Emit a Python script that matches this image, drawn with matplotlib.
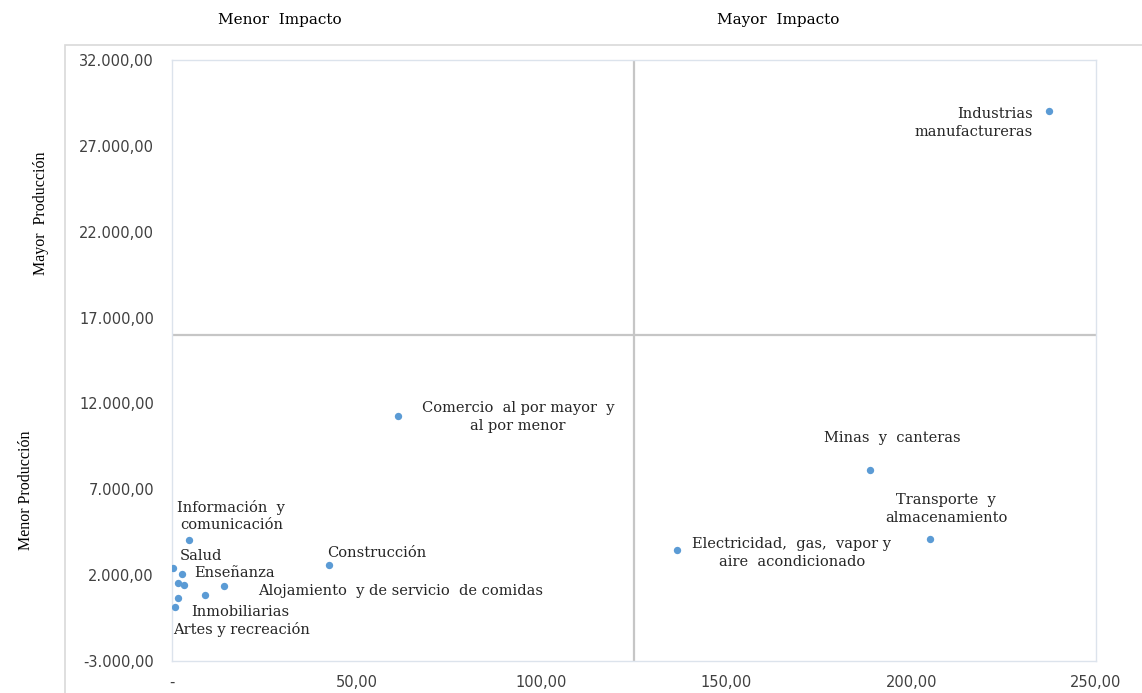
import matplotlib
matplotlib.use("Agg")
import matplotlib.pyplot as plt
from matplotlib.patches import Rectangle
from matplotlib.ticker import FuncFormatter

# ---- data ----
sectors = [
    "Industrias\nmanufactureras",
    "Minas  y  canteras",
    "Transporte  y\nalmacenamiento",
    "Electricidad,  gas,  vapor y\naire  acondicionado",
    "Comercio  al por mayor  y\nal por menor",
    "Construcción",
    "Información  y\ncomunicación",
    "Salud",
    "Enseñanza",
    "Otros servicios",
    "Actividades financieras",
    "Alojamiento  y de servicio  de comidas",
    "Actividades profesionales",
    "Inmobiliarias",
    "Artes y recreación",
]
impacto = [237.3, 188.9, 205.1, 136.6, 61.1, 42.5, 4.7, 0.35, 2.6, 1.7, 3.3, 14.1, 9.0, 1.7, 0.8]
produccion = [29030, 8120, 4100, 3460, 11270, 2590, 4045, 2400, 2065, 1525, 1440, 1385, 860, 685, 160]
show_label = [True, True, True, True, True, True, True, True, True, False, False, True, False, True, True]

x_threshold = 125
y_threshold = 16000
x_ticks = [0, 50, 100, 150, 200, 250]
y_ticks = [-3000, 2000, 7000, 12000, 17000, 22000, 27000, 32000]

# label placement (offset in pixels, alignment)
label_layout = {
    0: (-16, -12, "right", "right"),
    1: (22, 32, "center", "center"),
    2: (16, 30, "center", "center"),
    3: (115, -3, "center", "center"),
    4: (120, -1, "center", "center"),
    5: (48, 12, "center", "center"),
    6: (42, 24, "center", "center"),
    7: (6, 12, "left", "left"),
    8: (13, 1, "left", "left"),
    11: (34, -5, "left", "left"),
    13: (13, -14, "left", "left"),
    14: (-2, -23, "left", "left"),
}

W, H = 1142, 693
fig = plt.figure(figsize=(W / 100, H / 100), dpi=100)
ax = fig.add_axes([172 / W, 1 - 661 / H, (1096 - 172) / W, (661 - 60) / H])

# outer chart border
fig.patches.append(Rectangle((65 / W, -0.05), 1.0, 1 - 45 / H + 0.05,
                             transform=fig.transFigure, fill=False,
                             edgecolor="#D9D9D9", lw=1.2))

ax.set_xlim(0, 250)
ax.set_ylim(-3000, 32000)
ax.axvline(x_threshold, color="#C6C6C6", lw=1.6, zorder=1)
ax.axhline(y_threshold, color="#C6C6C6", lw=1.6, zorder=1)

ax.scatter(impacto, produccion, s=28, color="#5B9BD5", zorder=3, linewidths=0)

serif = "DejaVu Serif"
for i, (x, y, name) in enumerate(zip(impacto, produccion, sectors)):
    if not show_label[i]:
        continue
    dx, dy, ha, ma = label_layout[i]
    ax.annotate(name, xy=(x, y), xytext=(dx, dy), textcoords="offset pixels",
                ha=ha, va="center", multialignment=ma, fontsize=10.5,
                family=serif, color="#262626", linespacing=1.35)


def es_fmt(v, decimals=2):
    s = f"{v:,.{decimals}f}"
    return s.replace(",", "X").replace(".", ",").replace("X", ".")


ax.xaxis.set_major_formatter(FuncFormatter(lambda v, p: "-" if abs(v) < 1e-9 else es_fmt(v)))
ax.yaxis.set_major_formatter(FuncFormatter(lambda v, p: es_fmt(v)))
ax.set_xticks(x_ticks)
ax.set_yticks(y_ticks)
ax.tick_params(length=0, labelsize=10.5, labelcolor="#404040")
ax.tick_params(axis="x", pad=10)
ax.tick_params(axis="y", pad=13)
for lab in ax.get_xticklabels() + ax.get_yticklabels():
    lab.set_family("DejaVu Sans")

for sp in ax.spines.values():
    sp.set_color("#DCE3EC")
    sp.set_linewidth(1.0)

# quadrant captions
fig.text(280 / W, 1 - 20 / H, "Menor  Impacto", ha="center", va="center",
         fontsize=11, family=serif, color="#000000")
fig.text(778 / W, 1 - 20 / H, "Mayor  Impacto", ha="center", va="center",
         fontsize=11, family=serif, color="#000000")
fig.text(41 / W, 1 - 213 / H, "Mayor  Producción", ha="center", va="center",
         rotation=90, fontsize=11.5, family="Liberation Serif", color="#000000")
fig.text(26 / W, 1 - 490 / H, "Menor Producción", ha="center", va="center",
         rotation=90, fontsize=11.5, family="Liberation Serif", color="#000000")

fig.savefig("out.png", dpi=100)
